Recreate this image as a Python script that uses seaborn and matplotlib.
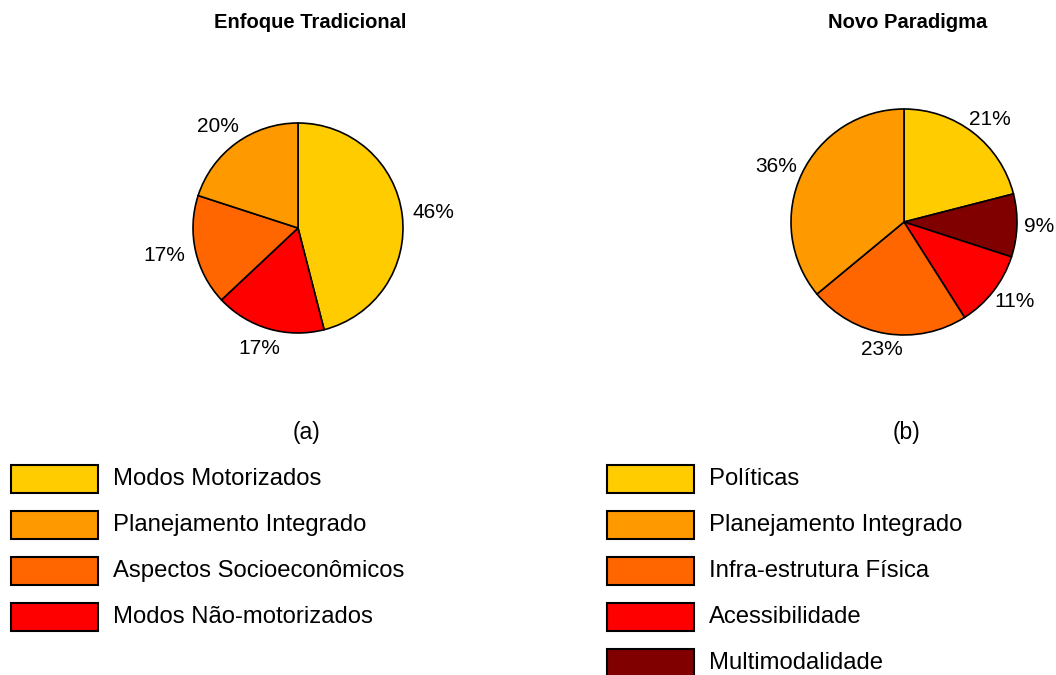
import matplotlib
matplotlib.use("Agg")
import numpy as np
import matplotlib.pyplot as plt
from matplotlib.patches import Rectangle
import seaborn as sns

# ---------------- data ----------------
left_title = "Enfoque Tradicional"
left_categories = ["Modos Motorizados", "Planejamento Integrado",
                   "Aspectos Socioeconômicos", "Modos Não-motorizados"]
left_values = [46, 20, 17, 17]
left_pie_order = [0, 3, 2, 1]          # clockwise from 12 o'clock

right_title = "Novo Paradigma"
right_categories = ["Políticas", "Planejamento Integrado",
                    "Infra-estrutura Física", "Acessibilidade", "Multimodalidade"]
right_values = [21, 36, 23, 11, 9]
right_pie_order = [0, 4, 3, 2, 1]

left_colors = ["#FFCC00", "#FF9900", "#FF6600", "#FF0000"]
right_colors = ["#FFCC00", "#FF9900", "#FF6600", "#FF0000", "#800000"]

sns.set_theme(style="white")
plt.rcParams["font.family"] = ["Liberation Sans", "DejaVu Sans"]
plt.rcParams["text.color"] = "black"

W, H = 1056, 675
fig = plt.figure(figsize=(W / 100, H / 100), dpi=100)
fig.patch.set_facecolor("white")
renderer = fig.canvas.get_renderer()


def px_axes(cx, cy, half):
    return fig.add_axes([(cx - half) / W, (H - cy - half) / H, 2 * half / W, 2 * half / H])


def draw_pie(cx, cy, r_px, values, colors, order, gap_px=11):
    half = 150
    ax = px_axes(cx, cy, half)
    vals = [values[i] for i in order]
    cols = [colors[i] for i in order]
    wedges, texts, autotexts = ax.pie(
        vals, colors=cols, startangle=90, counterclock=False,
        autopct=lambda p: f"{p:.0f}%", pctdistance=1.25,
        wedgeprops=dict(edgecolor="black", linewidth=1.2),
        textprops=dict(fontsize=15, color="black"))
    lim = half / r_px
    ax.set_xlim(-lim, lim)
    ax.set_ylim(-lim, lim)
    ax.set_aspect("equal")
    ax.axis("off")
    # place each percentage just outside its wedge (label box touches a ring)
    for w, t in zip(wedges, autotexts):
        ang = np.deg2rad((w.theta1 + w.theta2) / 2)
        dx, dy = np.cos(ang), np.sin(ang)
        bb = t.get_window_extent(renderer)
        tw, th = bb.width * 0.5, bb.height * 0.5
        base = 1 + gap_px / r_px
        t.set_position((base * dx + tw / r_px * dx, base * dy + th / r_px * dy))
        t.set_ha("center")
        t.set_va("center")
    return ax


draw_pie(298, 228, 105, left_values, left_colors, left_pie_order, gap_px=11)
draw_pie(904, 222, 113, right_values, right_colors, right_pie_order, gap_px=7)

# titles
fig.text(310 / W, 1 - 23 / H, left_title, ha="center", va="center",
         fontsize=14.5, fontweight="bold")
fig.text(908 / W, 1 - 23 / H, right_title, ha="center", va="center",
         fontsize=14.5, fontweight="bold")

# subplot tags
fig.text(307 / W, 1 - 432 / H, "(a)", ha="center", va="center", fontsize=16.5)
fig.text(906 / W, 1 - 432 / H, "(b)", ha="center", va="center", fontsize=16.5)


# legends (swatches + labels)
def draw_legend(x0, categories, colors):
    for i, (lab, col) in enumerate(zip(categories, colors)):
        yc = 479 + 46 * i
        fig.patches.append(Rectangle((x0 / W, 1 - (yc + 14) / H), 87 / W, 28 / H,
                                     transform=fig.transFigure, facecolor=col,
                                     edgecolor="black", linewidth=1.5))
        fig.text((x0 + 102) / W, 1 - yc / H, lab, ha="left", va="center",
                 fontsize=17.2)


draw_legend(11, left_categories, left_colors)
draw_legend(607, right_categories, right_colors)

fig.savefig("out.png", dpi=100, facecolor="white")
